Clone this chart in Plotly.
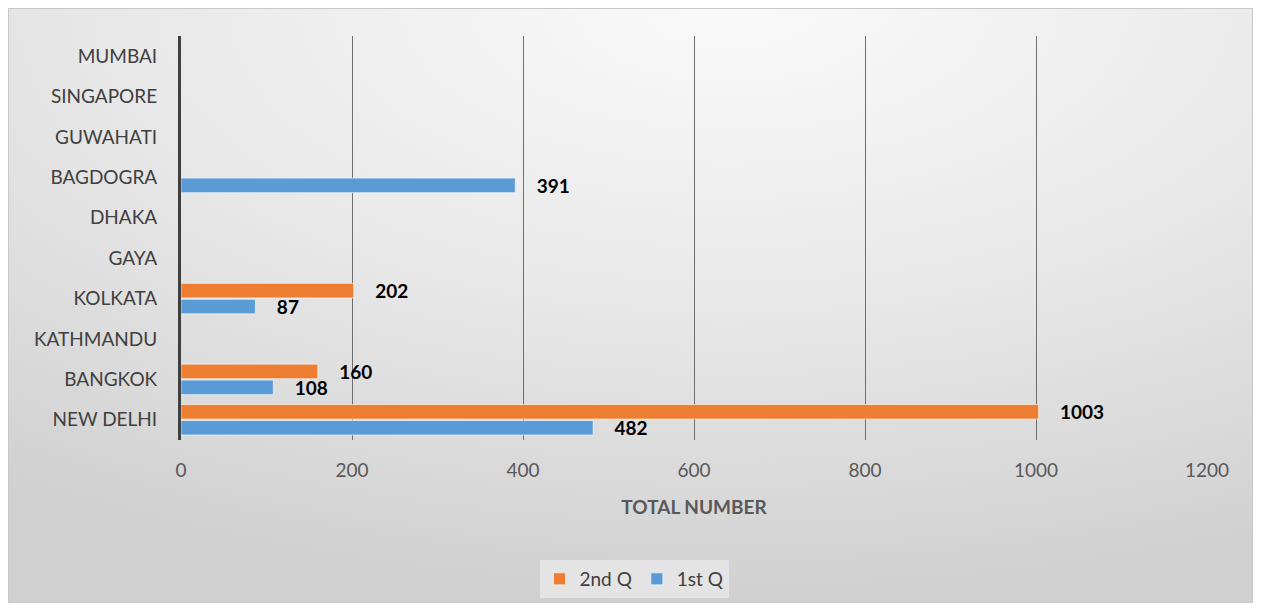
import plotly.graph_objects as go

cities = ["NEW DELHI", "BANGKOK", "KATHMANDU", "KOLKATA", "GAYA",
          "DHAKA", "BAGDOGRA", "GUWAHATI", "SINGAPORE", "MUMBAI"]
q1 = [482, 108, None, 87, None, None, 391, None, None, None]
q2 = [1003, 160, None, 202, None, None, None, None, None, None]
x_ticks = [0, 200, 400, 600, 800, 1000, 1200]

# page body has an 8px margin, so the figure is sized to sit inside it
W, H = 1245, 595
L, R, T, B = 173, 46, 28, 163
pw, ph = W - L - R, H - T - B

# soft grey gradient behind the chart, like the office-style background
bg_svg = (
    "data:image/svg+xml;utf8,"
    "<svg xmlns='http://www.w3.org/2000/svg' width='1245' height='595' preserveAspectRatio='none'>"
    "<defs><radialGradient id='g' cx='0.58' cy='0.0' r='1.0' fx='0.58' fy='0.0'>"
    "<stop offset='0' stop-color='%23fafafa'/><stop offset='0.5' stop-color='%23e8e8e8'/>"
    "<stop offset='1' stop-color='%23d0d0d0'/></radialGradient></defs>"
    "<rect width='100%25' height='100%25' fill='url(%23g)'/></svg>"
)

x0, x1 = -L / pw, 1 + R / pw
y0, y1 = -B / ph, 1 + T / ph

label_font = dict(family="Lato", size=19, color="#000000", weight="bold")

fig = go.Figure()
fig.add_trace(go.Bar(
    y=cities, x=q1, name="1st Q", orientation="h",
    marker=dict(color="#5B9BD5", line=dict(color="rgba(255,255,255,0.6)", width=1)),
    texttemplate="    %{x}", textposition="outside", cliponaxis=False,
    constraintext="none", textfont=label_font,
))
fig.add_trace(go.Bar(
    y=cities, x=q2, name="2nd Q", orientation="h",
    marker=dict(color="#ED7D31", line=dict(color="rgba(255,255,255,0.6)", width=1)),
    texttemplate="    %{x}", textposition="outside", cliponaxis=False,
    constraintext="none", textfont=label_font,
))

fig.update_layout(
    width=W, height=H,
    margin=dict(l=L, r=R, t=T, b=B, autoexpand=False),
    paper_bgcolor="#e6e6e6",
    plot_bgcolor="rgba(0,0,0,0)",
    barmode="group", bargap=0.21, bargroupgap=0.09,
    font=dict(family="Lato", size=19, color="#404040"),
    showlegend=True,
    legend=dict(orientation="h", traceorder="reversed",
                x=(626 - L) / pw, xanchor="center", y=(432 - 571) / ph, yanchor="middle",
                bgcolor="#e4e4e4", font=dict(size=19, color="#404040"),
                itemwidth=30),
    images=[dict(source=bg_svg, xref="paper", yref="paper", x=x0, y=y1,
                 sizex=x1 - x0, sizey=y1 - y0, sizing="stretch",
                 xanchor="left", yanchor="top", layer="below")],
    shapes=[dict(type="rect", xref="paper", yref="paper", x0=x0, x1=x1, y0=y0, y1=y1,
                 line=dict(color="#c8c8c8", width=2), layer="below")],
)
fig.update_xaxes(range=[0, 1200], tickvals=x_ticks, showgrid=True,
                 gridcolor="#6e6e6e", gridwidth=1, zeroline=False,
                 showline=False, ticks="", ticklabelstandoff=17, automargin=False,
                 tickfont=dict(size=19, color="#595959"),
                 title=dict(text="<b>TOTAL NUMBER</b>", standoff=20,
                            font=dict(size=19, color="#595959")))
fig.update_yaxes(showgrid=False, showline=True, linecolor="#404040", linewidth=3,
                 ticks="", ticklabelstandoff=17, categoryorder="array", automargin=False,
                 categoryarray=cities, tickfont=dict(size=19, color="#404040"))

fig.write_html("out.html")
